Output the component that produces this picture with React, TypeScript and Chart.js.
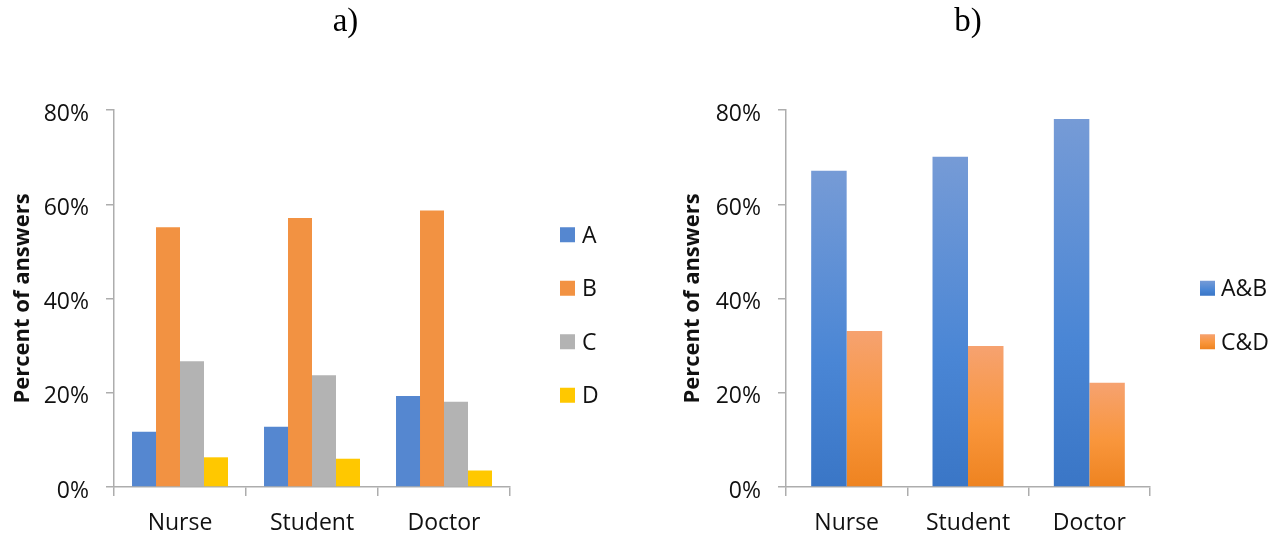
import React, { useEffect, useRef } from "react";
import { Chart, registerables } from "chart.js";

Chart.register(...registerables);

// Answer shares (percent) per respondent group
const categories = ["Nurse", "Student", "Doctor"];
const seriesA = [11.7, 12.8, 19.3];
const seriesB = [55.1, 57.1, 58.7];
const seriesC = [26.7, 23.7, 18.1];
const seriesD = [6.3, 6.0, 3.5];
const seriesAB = [67.1, 70.1, 78.1];
const seriesCD = [33.1, 29.9, 22.1];

const labelsLeft = ["A", "B", "C", "D"];
const labelsRight = ["A&B", "C&D"];
const yMax = 80;
const yStep = 20;
const axisTitle = "Percent of answers";

const FONT = "'Open Sans', 'Noto Sans', sans-serif";
const AXIS_GRAY = "#ADADAD";
const TEXT = "#111111";

const colorA = "#5587D0";
const colorB = "#F29242";
const colorC = "#B3B3B3";
const colorD = "#FFC800";

type Stop = [number, string];
const blueStops: Stop[] = [
  [0, "#769BD6"],
  [0.6, "#4A86D5"],
  [1, "#3A76C6"],
];
const orangeStops: Stop[] = [
  [0, "#F6A270"],
  [0.55, "#F9963C"],
  [1, "#EE8320"],
];

// Vertical gradient spanning each individual bar
const barGradient = (stops: Stop[]) => (ctx: any) => {
  const chart = ctx.chart;
  if (ctx.type !== "data" || !chart.chartArea) return stops[1][1];
  const y = chart.scales.y;
  const top = y.getPixelForValue(ctx.raw);
  const bottom = y.getPixelForValue(0);
  const g = chart.ctx.createLinearGradient(0, top, 0, bottom);
  stops.forEach(([o, c]) => g.addColorStop(o, c));
  return g;
};

// Legend drawn as a vertical column of square swatches right of the plot
const sideLegend = {
  id: "sideLegend",
  afterDraw(chart: any, _args: any, opts: any) {
    const { ctx, chartArea } = chart;
    const labels: string[] = opts.labels;
    const n = labels.length;
    const x0 = chartArea.right + opts.offsetX;
    const size = opts.box;
    ctx.save();
    ctx.font = `23px ${FONT}`;
    ctx.textBaseline = "middle";
    ctx.textAlign = "left";
    labels.forEach((lab, i) => {
      const yc = opts.centerY + (i - (n - 1) / 2) * opts.spacing;
      const fill = opts.fills[i];
      if (Array.isArray(fill)) {
        const g = ctx.createLinearGradient(0, yc - size / 2, 0, yc + size / 2);
        fill.forEach(([o, c]: Stop) => g.addColorStop(o, c));
        ctx.fillStyle = g;
      } else {
        ctx.fillStyle = fill;
      }
      ctx.fillRect(x0, yc - size / 2, size, size);
      ctx.fillStyle = TEXT;
      ctx.fillText(lab, x0 + size + opts.textGap, yc + 1.5);
    });
    ctx.restore();
  },
};

function makeOptions(p: {
  padLeft: number;
  padRight: number;
  yWidth: number;
  catPct: number;
  legendLabels: string[];
  legendFills: any[];
  textGap: number;
}) {
  return {
    responsive: false,
    animation: false as const,
    layout: { padding: { left: p.padLeft, right: p.padRight, top: 110, bottom: 0 } },
    datasets: { bar: { categoryPercentage: p.catPct, barPercentage: 1 } },
    plugins: {
      legend: { display: false },
      tooltip: { enabled: false },
      sideLegend: {
        labels: p.legendLabels,
        fills: p.legendFills,
        offsetX: 50,
        centerY: 315,
        spacing: 53.5,
        box: 15,
        textGap: p.textGap,
      },
    },
    scales: {
      x: {
        grid: {
          offset: true,
          drawOnChartArea: false,
          drawTicks: true,
          tickLength: 9,
          color: AXIS_GRAY,
          lineWidth: 1.5,
        },
        border: { display: true, color: AXIS_GRAY, width: 1.5 },
        ticks: { color: TEXT, font: { family: FONT, size: 23 }, padding: 14 },
        afterFit: (s: any) => {
          s.height = 48;
        },
      },
      y: {
        min: 0,
        max: yMax,
        ticks: {
          stepSize: yStep,
          color: TEXT,
          font: { family: FONT, size: 23 },
          padding: 17,
          labelOffset: 4,
          callback: (v: any) => `${v}%`,
        },
        grid: {
          drawOnChartArea: false,
          drawTicks: true,
          tickLength: 8,
          color: AXIS_GRAY,
          lineWidth: 1.5,
        },
        border: { display: true, color: AXIS_GRAY, width: 1.5 },
        title: {
          display: true,
          text: axisTitle,
          color: TEXT,
          font: { family: FONT, size: 22, weight: "bold" as const },
          padding: { top: 10, bottom: 0 },
        },
        afterFit: (s: any) => {
          s.width = p.yWidth;
        },
      },
    },
  };
}

function BarPanel({ config }: { config: any }) {
  const ref = useRef<HTMLCanvasElement>(null);
  useEffect(() => {
    if (!ref.current) return;
    const chart = new Chart(ref.current, config);
    return () => chart.destroy();
  }, [config]);
  return <canvas ref={ref} width={639} height={535} style={{ display: "block" }} />;
}

const leftConfig = {
  type: "bar",
  data: {
    labels: categories,
    datasets: [
      { label: labelsLeft[0], data: seriesA, backgroundColor: colorA },
      { label: labelsLeft[1], data: seriesB, backgroundColor: colorB },
      { label: labelsLeft[2], data: seriesC, backgroundColor: colorC },
      { label: labelsLeft[3], data: seriesD, backgroundColor: colorD },
    ],
  },
  options: makeOptions({
    padLeft: 0,
    padRight: 129,
    yWidth: 114,
    catPct: 0.727,
    legendLabels: labelsLeft,
    legendFills: [colorA, colorB, colorC, colorD],
    textGap: 7,
  }),
  plugins: [sideLegend],
};

const rightConfig = {
  type: "bar",
  data: {
    labels: categories,
    datasets: [
      { label: labelsRight[0], data: seriesAB, backgroundColor: barGradient(blueStops) },
      { label: labelsRight[1], data: seriesCD, backgroundColor: barGradient(orangeStops) },
    ],
  },
  options: makeOptions({
    padLeft: 31,
    padRight: 128,
    yWidth: 116,
    catPct: 0.585,
    legendLabels: labelsRight,
    legendFills: [blueStops, orangeStops],
    textGap: 6,
  }),
  plugins: [sideLegend],
};

const titleStyle = (cx: number): React.CSSProperties => ({
  position: "absolute",
  left: cx,
  top: 4,
  transform: "translateX(-50%)",
  fontFamily: "'Liberation Serif', 'Times New Roman', serif",
  fontSize: 33,
  lineHeight: 1,
  color: "#000",
  whiteSpace: "nowrap",
});

export default function App() {
  return (
    <div
      style={{
        position: "fixed",
        left: 0,
        top: 0,
        width: 1278,
        height: 535,
        background: "#fff",
        overflow: "hidden",
      }}
    >
      <div style={{ position: "absolute", left: 0, top: 0 }}>
        <BarPanel config={leftConfig} />
      </div>
      <div style={{ position: "absolute", left: 639, top: 0 }}>
        <BarPanel config={rightConfig} />
      </div>
      <div style={titleStyle(345.5)}>a)</div>
      <div style={titleStyle(968)}>b)</div>
    </div>
  );
}
